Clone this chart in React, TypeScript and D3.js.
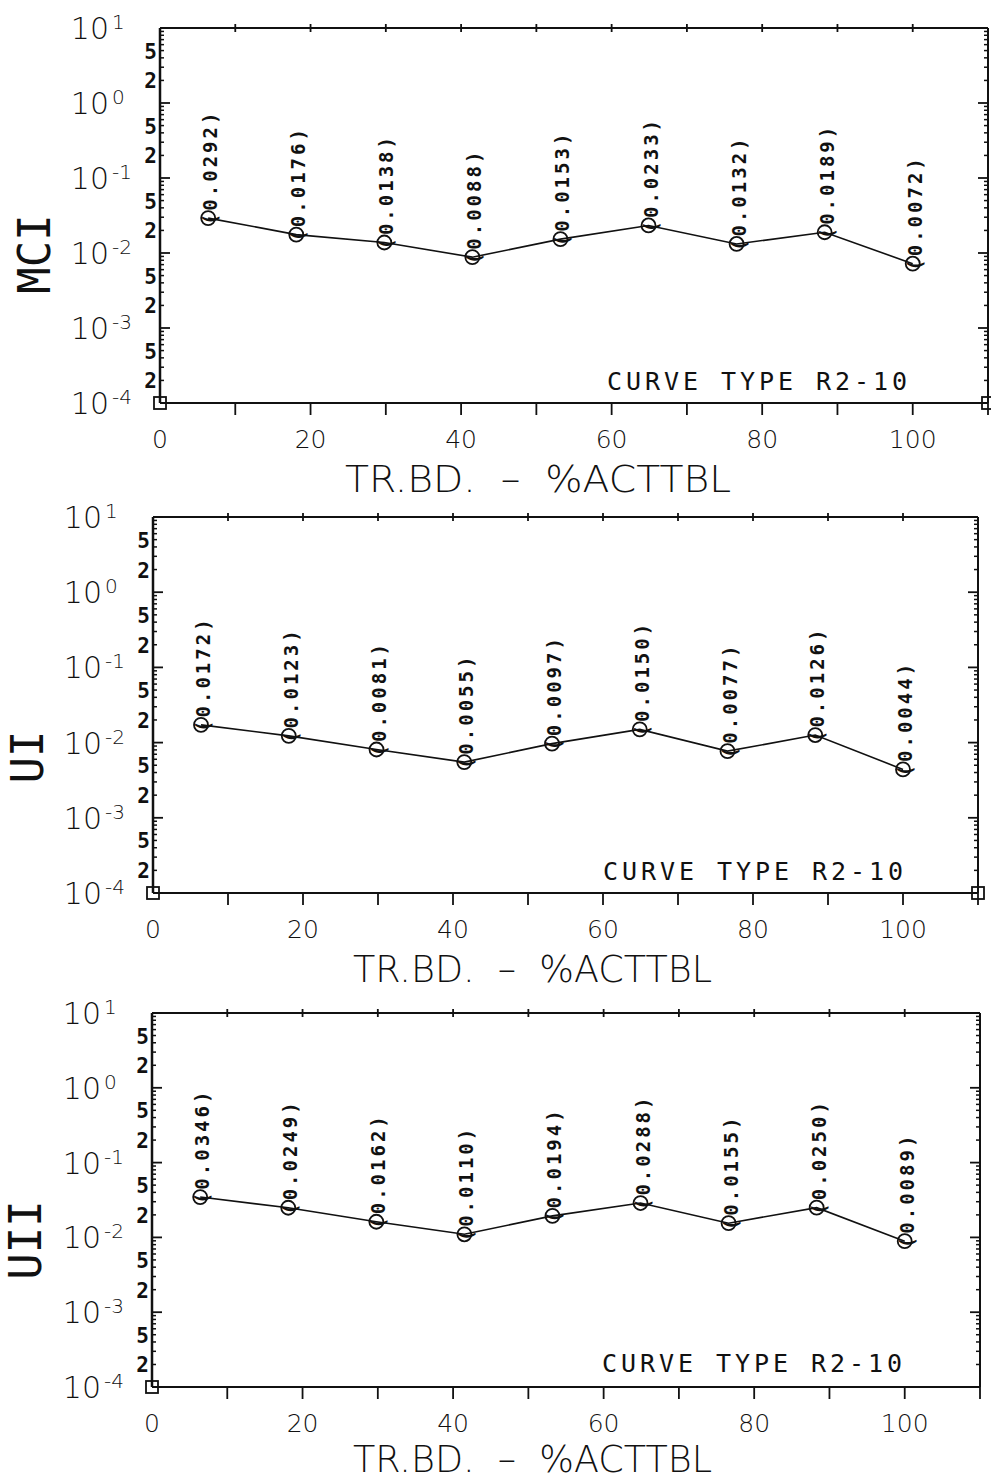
import React, { useEffect } from 'react';
import * as d3 from 'd3';

// ---- data ----
const xPositions = [6.4, 18.1, 29.8, 41.5, 53.2, 64.9, 76.6, 88.3, 100];
const mciValues = [0.0292, 0.0176, 0.0138, 0.0088, 0.0153, 0.0233, 0.0132, 0.0189, 0.0072];
const uiValues = [0.0172, 0.0123, 0.0081, 0.0055, 0.0097, 0.015, 0.0077, 0.0126, 0.0044];
const uiiValues = [0.0346, 0.0249, 0.0162, 0.011, 0.0194, 0.0288, 0.0155, 0.025, 0.0089];
const panelNames = ['MCI', 'UI', 'UII'];
const xMinorTicks = d3.range(0, 111, 10);
const xLabelTicks = [0, 20, 40, 60, 80, 100];
const decadeExponents = [1, 0, -1, -2, -3, -4];
const subDecadeMarks = [2, 5];
const curveTypeLabel = 'CURVE TYPE R2-10';
const xAxisTitle = 'TR.BD.  \u2013  %ACTTBL';

// ---- layout ----
const layouts = [
  { left: 160, right: 988, top: 28, bottom: 403, titleY: 492, titleX0: 345, titleX1: 731, yLabelY: 254, yLabelX: 50, cornerSquare: true, curveX: 607, curveY: 390 },
  { left: 153, right: 978, top: 517, bottom: 893, titleY: 982, titleX0: 353, titleX1: 712, yLabelY: 757, yLabelX: 43, cornerSquare: true, curveX: 603, curveY: 880 },
  { left: 152, right: 980, top: 1013, bottom: 1387, titleY: 1472, titleX0: 353, titleX1: 712, yLabelY: 1240, yLabelX: 41, cornerSquare: false, curveX: 602, curveY: 1372 },
];
const seriesList = [mciValues, uiValues, uiiValues];

const INK = '#111';
const plotFont = '"DejaVu Sans", sans-serif';
const monoFont = '"DejaVu Sans Mono", monospace';

function Panel({ idx }: { idx: number }) {
  const L = layouts[idx];
  const values = seriesList[idx];
  const x = d3.scaleLinear().domain([0, 110]).range([L.left, L.right]);
  const y = d3.scaleLog().domain([1e-4, 10]).range([L.bottom, L.top]);
  const line = d3
    .line<number>()
    .x((_, i) => x(xPositions[i]))
    .y((d) => y(d));

  const minor: number[] = [];
  for (let e = -4; e <= 0; e++) for (let m = 2; m <= 9; m++) minor.push(m * Math.pow(10, e));
  const decades = decadeExponents.map((e) => Math.pow(10, e));
  const subLabels: { v: number; t: string }[] = [];
  for (let e = -4; e <= 0; e++) subDecadeMarks.forEach((m) => subLabels.push({ v: m * Math.pow(10, e), t: String(m) }));

  return (
    <g>
      {/* frame */}
      <line x1={L.left} x2={L.right} y1={L.bottom} y2={L.bottom} stroke={INK} strokeWidth={2} />
      <line x1={L.left} x2={L.right} y1={L.top} y2={L.top} stroke={INK} strokeWidth={2} />
      <line x1={L.left} x2={L.left} y1={L.top} y2={L.bottom} stroke={INK} strokeWidth={2.5} />
      <line x1={L.right} x2={L.right} y1={L.top} y2={L.bottom} stroke={INK} strokeWidth={2} />
      {/* left/right minor ticks */}
      {minor.map((v, i) => (
        <g key={'mn' + i}>
          <line x1={L.left} x2={L.left + 4} y1={y(v)} y2={y(v)} stroke={INK} strokeWidth={1.5} />
          <line x1={L.right} x2={L.right - 4} y1={y(v)} y2={y(v)} stroke={INK} strokeWidth={1.5} />
        </g>
      ))}
      {decades.map((v, i) => (
        <g key={'dc' + i}>
          <line x1={L.left} x2={L.left + 10} y1={y(v)} y2={y(v)} stroke={INK} strokeWidth={1.8} />
          <line x1={L.right} x2={L.right - 10} y1={y(v)} y2={y(v)} stroke={INK} strokeWidth={1.8} />
          <text x={L.left - 51} y={y(v) + 11} textAnchor="end" fontFamily={plotFont} fontWeight={200} fontSize={30} fill={INK}>
            10
          </text>
          <text x={L.left - 48} y={y(v) + 1} textAnchor="start" fontFamily={plotFont} fontWeight={200} fontSize={20} fill={INK}>
            {decadeExponents[i] < 0 ? '-' + Math.abs(decadeExponents[i]) : String(decadeExponents[i])}
          </text>
        </g>
      ))}
      {subLabels.map((s, i) => (
        <text key={'sl' + i} x={L.left - 3} y={y(s.v) + 8} textAnchor="end" fontFamily={monoFont} fontWeight="bold" fontSize={21} fill={INK}>
          {s.t}
        </text>
      ))}
      {/* top ticks */}
      {xMinorTicks.slice(1, -1).map((v) => (
        <line key={'tt' + v} x1={x(v)} x2={x(v)} y1={L.top - 4} y2={L.top + 4} stroke={INK} strokeWidth={1.8} />
      ))}
      {/* bottom ticks */}
      {xMinorTicks.slice(1).map((v) => (
        <line key={'bt' + v} x1={x(v)} x2={x(v)} y1={L.bottom} y2={L.bottom + 12} stroke={INK} strokeWidth={1.8} />
      ))}
      {xLabelTicks.map((v) => (
        <text key={'xl' + v} x={x(v)} y={L.bottom + 45} textAnchor="middle" fontFamily={plotFont} fontWeight={200} fontSize={25} fill={INK}>
          {v}
        </text>
      ))}
      {/* corner squares */}
      <rect x={x(0) - 6} y={y(1e-4) - 6} width={12} height={12} fill="none" stroke={INK} strokeWidth={1.8} />
      {L.cornerSquare && (
        <rect x={x(110) - 6} y={y(1e-4) - 6} width={12} height={12} fill="none" stroke={INK} strokeWidth={1.8} />
      )}
      {/* series */}
      <path d={line(values) || ''} fill="none" stroke={INK} strokeWidth={1.6} />
      {values.map((v, i) => {
        const cx = x(xPositions[i]);
        const cy = y(v);
        return (
          <g key={'pt' + i}>
            <circle cx={cx} cy={cy} r={7} fill="none" stroke={INK} strokeWidth={1.8} />
            <text
              transform={`translate(${cx},${cy}) rotate(-90)`}
              x={-7}
              y={9}
              fontFamily={monoFont}
              fontWeight="bold"
              fontSize={19}
              letterSpacing={3}
              fill={INK}
            >
              {'(' + d3.format('.4f')(v) + ')'}
            </text>
          </g>
        );
      })}
      {/* labels */}
      <text x={L.curveX} y={L.curveY} textLength={300} lengthAdjust="spacing" fontFamily={monoFont} fontSize={25} fill={INK}>
        {curveTypeLabel}
      </text>
      <text
        x={L.titleX0}
        y={L.titleY}
        textLength={L.titleX1 - L.titleX0}
        lengthAdjust="spacingAndGlyphs"
        fontFamily={plotFont}
        fontWeight={200}
        fontSize={38}
        fill={INK}
        style={{ whiteSpace: 'pre' }}
      >
        {xAxisTitle}
      </text>
      <text
        transform={`translate(${L.yLabelX},${L.yLabelY}) rotate(-90)`}
        textAnchor="middle"
        fontFamily={monoFont}
        fontWeight={200}
        fontSize={44}
        fill={INK}
      >
        {panelNames[idx]}
      </text>
    </g>
  );
}

export default function App() {
  useEffect(() => {
    document.body.style.margin = '0';
  }, []);
  return (
    <svg width={991} height={1482} viewBox="0 0 991 1482" style={{ display: 'block', background: '#fff' }}>
      <rect width={991} height={1482} fill="#fff" />
      {layouts.map((_, i) => (
        <Panel key={i} idx={i} />
      ))}
    </svg>
  );
}
